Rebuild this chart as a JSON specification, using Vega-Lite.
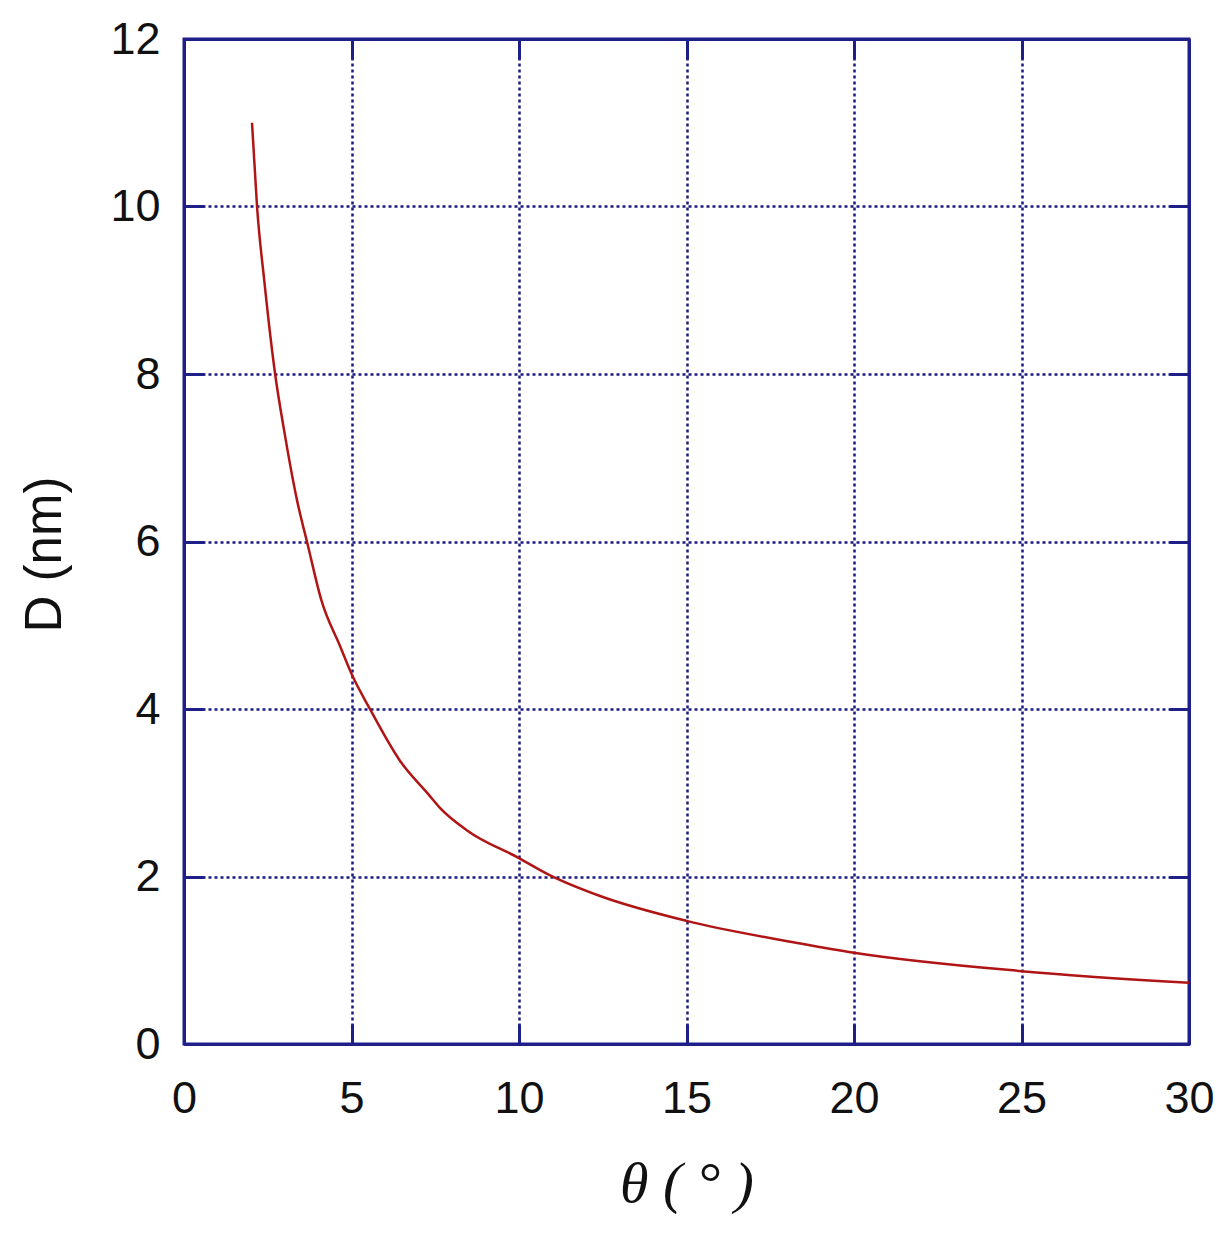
{
  "$schema": "https://vega.github.io/schema/vega-lite/v6.json",
  "width": 1005,
  "height": 1005,
  "autosize": {"type": "none"},
  "padding": {"left": 184, "top": 39, "right": 34, "bottom": 195},
  "background": "white",
  "config": {
    "view": {"stroke": "#1f1f8a", "strokeWidth": 3},
    "axis": {
      "labelFont": "Liberation Sans",
      "labelFontSize": 45,
      "labelColor": "#111111",
      "labelFlush": false,
      "labelOverlap": false,
      "domainColor": "#1f1f8a",
      "domainWidth": 3,
      "tickColor": "#1f1f8a",
      "tickWidth": 3,
      "gridColor": "#1a1a80",
      "gridWidth": 2.5,
      "gridDash": [3, 3],
      "gridOpacity": 1,
      "titleFont": "Liberation Sans",
      "titleFontWeight": "normal",
      "titleColor": "#111111"
    }
  },
  "data": {
    "values": [
      {"theta": 2.03, "D": 11.0},
      {"theta": 2.18, "D": 10.0},
      {"theta": 2.4, "D": 9.1},
      {"theta": 2.72, "D": 8.0},
      {"theta": 3.0, "D": 7.3},
      {"theta": 3.37, "D": 6.5},
      {"theta": 3.7, "D": 5.95},
      {"theta": 4.1, "D": 5.3},
      {"theta": 4.66, "D": 4.75},
      {"theta": 5.0, "D": 4.42},
      {"theta": 5.55, "D": 4.0},
      {"theta": 6.45, "D": 3.38},
      {"theta": 7.3, "D": 2.98},
      {"theta": 7.64, "D": 2.82},
      {"theta": 8.45, "D": 2.55},
      {"theta": 10.0, "D": 2.22},
      {"theta": 10.9, "D": 2.02},
      {"theta": 12.4, "D": 1.77},
      {"theta": 15.0, "D": 1.47},
      {"theta": 18.4, "D": 1.2},
      {"theta": 20.0, "D": 1.09},
      {"theta": 25.0, "D": 0.87},
      {"theta": 30.0, "D": 0.73}
    ]
  },
  "layer": [
    {
      "mark": {"type": "line", "color": "#b01515", "strokeWidth": 2.5, "interpolate": "monotone"},
      "encoding": {
        "x": {
          "field": "theta", "type": "quantitative",
          "scale": {"domain": [0, 30], "nice": false, "zero": false},
          "axis": {
            "orient": "bottom", "values": [0, 5, 10, 15, 20, 25, 30],
            "tickSize": -20, "labelPadding": 52, "grid": true,
            "title": "θ ( ° )", "titleFont": "Liberation Serif", "titleFontStyle": "italic",
            "titleFontSize": 58, "titlePadding": 34
          }
        },
        "y": {
          "field": "D", "type": "quantitative",
          "scale": {"domain": [0, 12], "nice": false},
          "axis": {
            "orient": "left", "values": [0, 2, 4, 6, 8, 10, 12],
            "tickSize": -20, "labelPadding": 44, "grid": true,
            "title": "D (nm)", "titleFontSize": 51, "titlePadding": 38, "titleY": 515
          }
        }
      }
    },
    {
      "mark": {"type": "line", "opacity": 0},
      "encoding": {
        "x": {
          "field": "theta", "type": "quantitative",
          "axis": {"orient": "top", "values": [0, 5, 10, 15, 20, 25, 30], "tickSize": -20, "labels": false, "title": null, "grid": false}
        },
        "y": {
          "field": "D", "type": "quantitative",
          "axis": {"orient": "right", "values": [0, 2, 4, 6, 8, 10, 12], "tickSize": -20, "labels": false, "title": null, "grid": false}
        }
      }
    }
  ],
  "resolve": {"axis": {"x": "independent", "y": "independent"}}
}
